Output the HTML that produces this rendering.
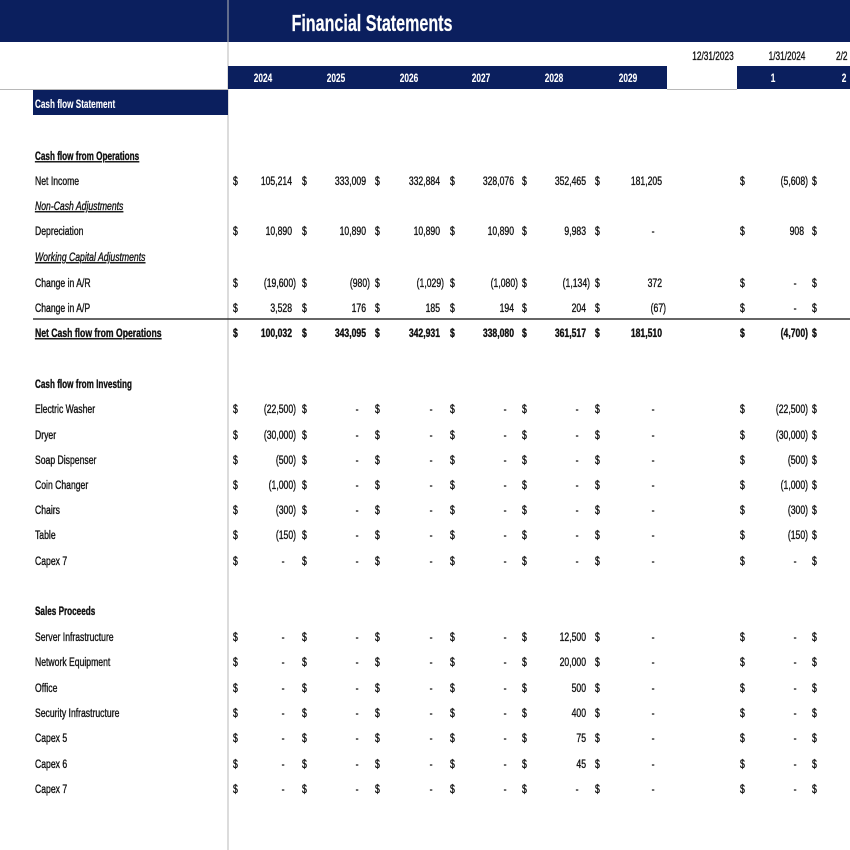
<!DOCTYPE html>
<html><head><meta charset="utf-8">
<style>
html,body{margin:0;padding:0;background:#fff;}
svg{display:block;font-family:"Liberation Sans",sans-serif;}
</style></head>
<body>
<svg id="s" width="850" height="850" xmlns="http://www.w3.org/2000/svg">
<rect x="0" y="0" width="850" height="42" fill="#0b1f5e"/>
<line x1="228" y1="0" x2="228" y2="850" stroke="#b8b8b8" stroke-width="1"/>
<rect x="228" y="66" width="439" height="23" fill="#0b1f5e"/>
<rect x="737" y="66" width="113" height="23" fill="#0b1f5e"/>
<line x1="0" y1="89.5" x2="228" y2="89.5" stroke="#b8b8b8"/>
<line x1="667" y1="89.5" x2="737" y2="89.5" stroke="#b8b8b8"/>
<rect x="33" y="90" width="195" height="25" fill="#0b1f5e"/>
<line x1="33" y1="319" x2="850" y2="319" stroke="#333" stroke-width="1.5"/>
<g id="t"></g>
</svg>
<script>
var g=document.getElementById('t');
var NS='http://www.w3.org/2000/svg';
function T(x,y,s,o){o=o||{};var e=document.createElementNS(NS,'text');
var sc=o.sc||0.72;
e.setAttribute('transform','translate('+x+','+y+') scale('+sc+',1)');
e.setAttribute('font-size',o.fs||12);
var c=o.c||'#111';
e.setAttribute('fill',c);
e.setAttribute('stroke',c);e.setAttribute('stroke-width',o.sw||0.35);
if(o.a)e.setAttribute('text-anchor',o.a);
if(o.b)e.setAttribute('font-weight','bold');
if(o.i)e.setAttribute('font-style','italic');
if(o.u)e.setAttribute('text-decoration','underline');
e.textContent=s;g.appendChild(e);}
T(372,31,'Financial Statements',{fs:23,c:'#fff',a:'middle',sc:0.7,b:1,sw:0.2});
var yrs=['2024','2025','2026','2027','2028','2029'],yx=[263,336,409,481,554,628];
for(var i=0;i<6;i++)T(yx[i],82,yrs[i],{c:'#fff',a:'middle',fs:11.5,b:1,sw:0.1});
T(773,82,'1',{c:'#fff',a:'middle',fs:11.5,b:1,sw:0.1});T(844,82,'2',{c:'#fff',a:'middle',fs:11.5,b:1,sw:0.1});
T(713,60,'12/31/2023',{a:'middle',fs:11.5});T(787,60,'1/31/2024',{a:'middle',fs:11.5});T(836,60,'2/2',{fs:11.5});
T(35,108,'Cash flow Statement',{c:'#fff',b:1,sc:0.68,sw:0.1});
var dl=[233,302,375,450,522,595,740,812];
var ed=[296,370,444,518,590,666,808];
function row(y,label,vals,o){o=o||{};T(35,y,label,o);
 if(!vals)return;
 for(var i=0;i<7;i++){var v=vals[i];
  T(dl[i],y,'$',{b:o.b});
  if(v===null||v===undefined)continue;
  var r=ed[i];
  if(v==='-'){T(r-13,y,'-',{b:o.b,a:'middle'});}
  else if(v[0]==='('){T(r,y,v,{a:'end',b:o.b});}
  else{T(r-4,y,v,{a:'end',b:o.b});}
 }
 T(dl[7],y,'$',{b:o.b});
}
T(35,160,'Cash flow from Operations',{b:1,u:1,sc:0.68});
row(185,'Net Income',['105,214','333,009','332,884','328,076','352,465','181,205','(5,608)']);
T(35,210,'Non-Cash Adjustments',{i:1,u:1});
row(235,'Depreciation',['10,890','10,890','10,890','10,890','9,983','-','908']);
T(35,261,'Working Capital Adjustments',{i:1,u:1});
row(287,'Change in A/R',['(19,600)','(980)','(1,029)','(1,080)','(1,134)','372','-']);
row(312,'Change in A/P',['3,528','176','185','194','204','(67)','-']);
row(337,'Net Cash flow from Operations',['100,032','343,095','342,931','338,080','361,517','181,510','(4,700)'],{b:1,u:1});
T(35,388,'Cash flow from Investing',{b:1,sc:0.68});
var inv=[['Electric Washer','(22,500)'],['Dryer','(30,000)'],['Soap Dispenser','(500)'],['Coin Changer','(1,000)'],['Chairs','(300)'],['Table','(150)'],['Capex 7','-']];
var ys=[413,439,464,489,514,539,565];
for(var k=0;k<7;k++){var a=inv[k];row(ys[k],a[0],[a[1],'-','-','-','-','-',a[1]]);}
T(35,615,'Sales Proceeds',{b:1,sc:0.68});
var sp=[['Server Infrastructure','12,500'],['Network Equipment','20,000'],['Office','500'],['Security Infrastructure','400'],['Capex 5','75'],['Capex 6','45'],['Capex 7','-']];
var ys2=[641,666,692,717,742,768,793];
for(var k=0;k<7;k++){var a=sp[k];row(ys2[k],a[0],['-','-','-','-',a[1],'-','-']);}
</script>
</body></html>
